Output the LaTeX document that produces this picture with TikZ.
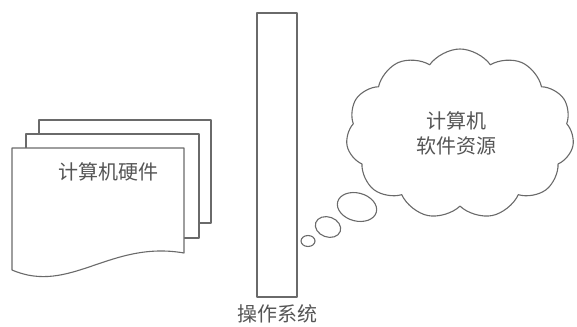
\documentclass[tikz,border=0pt]{standalone}
\usepackage{fontspec}
\newfontfamily\cjk{Noto Sans CJK SC}
\usetikzlibrary{shapes.symbols}
\definecolor{linec}{HTML}{6A6A6A}
\definecolor{textc}{HTML}{555555}
\begin{document}
\begin{tikzpicture}[x=1pt,y=-1pt,
  outl/.style={draw=linec,line width=1.1pt,fill=white,line join=round},
  lbl/.style={font=\cjk\fontsize{20}{25}\selectfont,text=textc,align=center,inner sep=0pt}]
\useasboundingbox (0,0) rectangle (577,326);
% stacked pages
\draw[outl] (39,120) rectangle (211,223);
\draw[outl] (26,134) rectangle (199,238);
\draw[outl] (12,148) -- (184,148) -- (184,253) .. controls (110,240) and (70,295) .. (12,270) -- cycle;
\node[lbl] (hw) at (108,172) {计算机硬件};
% OS bar
\node[outl,minimum width=40,minimum height=284,inner sep=0pt] (os) at (277,155) {};
\node[lbl] (oslbl) at (277,314) {操作系统};
% cloud
\node[outl,cloud,cloud puffs=11,cloud puff arc=110,aspect=1.35,minimum width=228,minimum height=170,inner sep=0pt] (cloud) at (460,134) {};
\node[lbl] (sw) at (456,133) {计算机\\软件资源};
% thought bubbles
\draw[outl,rotate around={-15:(357,207)}] (357,207) ellipse [x radius=20,y radius=14] coordinate (b1);
\draw[outl,rotate around={-20:(328,227)}] (328,227) ellipse [x radius=13,y radius=10] coordinate (b2);
\draw[outl] (308,241) ellipse [x radius=7,y radius=5.5] coordinate (b3);
\end{tikzpicture}
\end{document}
